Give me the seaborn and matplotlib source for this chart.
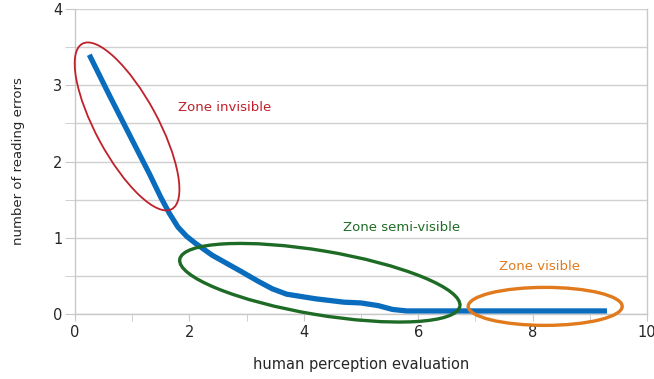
import numpy as np
import pandas as pd
import seaborn as sns
import matplotlib
matplotlib.use("Agg")
import matplotlib.pyplot as plt
from matplotlib.patches import Ellipse
import matplotlib.transforms as mtransforms

# Data
perception = [0.25, 0.6, 1.0, 1.3, 1.5, 1.65, 1.8, 1.95, 2.1, 2.4, 2.9, 3.2, 3.45, 3.7, 3.95, 4.2, 4.7, 5.0, 5.3, 5.55, 5.8, 6.5, 7.5, 8.5, 9.3]
errors = [3.4, 2.87, 2.28, 1.84, 1.53, 1.32, 1.14, 1.02, 0.93, 0.77, 0.56, 0.43, 0.33, 0.26, 0.23, 0.2, 0.155, 0.145, 0.11, 0.06, 0.04, 0.04, 0.04, 0.04, 0.04]

zone_labels = ["Zone invisible", "Zone semi-visible", "Zone visible"]
zone_label_pos = [(1.80, 2.71), (4.69, 1.13), (7.41, 0.62)]
zone_colors = ["#C0202A", "#1E6B26", "#E07A1C"]
# ellipses: center (data), semi-axes in pixels, angle deg, linewidth
zone_centers = [(0.91, 2.46), (4.28, 0.41), (8.22, 0.10)]
zone_axes_px = [(94, 31), (142, 32), (77, 19)]
zone_angles = [-61.6, -9.5, 0.0]
zone_lw = [1.3, 2.4, 2.4]

xticks = [0, 2, 4, 6, 8, 10]
yticks = [0, 1, 2, 3, 4]

df = pd.DataFrame({"x": perception, "y": errors})

sns.set_style("white")
plt.rcParams['font.family'] = ['DejaVu Sans']

fig = plt.figure(figsize=(6.54, 3.79), dpi=100)
ax = fig.add_axes([75/654, 1-314/379, (647-75)/654, (314-9)/379])

ax.set_xlim(0, 10)
ax.set_ylim(0, 4)

# gridlines at every 0.5
ax.set_yticks(np.arange(0, 4.01, 0.5), minor=True)
ax.set_yticks(yticks)
ax.set_xticks(xticks)
ax.set_xticks(np.arange(0, 10.01, 1), minor=True)
ax.yaxis.grid(True, which="both", color="#D0D0D0", linewidth=1.0)
ax.set_axisbelow(True)

sns.lineplot(data=df, x="x", y="y", ax=ax, color="#0A6CBD", linewidth=3.8,
             solid_capstyle="butt", solid_joinstyle="round", zorder=3)

for s in ["left", "bottom", "right"]:
    ax.spines[s].set_visible(True)
    ax.spines[s].set_color("#C8C8C8")
    ax.spines[s].set_linewidth(1.0)
ax.spines["top"].set_visible(False)

ax.tick_params(axis="y", which="both", length=7, color="#C8C8C8", labelsize=10.5, pad=2, left=True)
ax.tick_params(axis="x", which="both", length=5, color="#C8C8C8", labelsize=10.5, pad=3, bottom=True)
ax.set_yticklabels([str(t) for t in yticks])
ax.set_xticklabels([str(t) for t in xticks])

ax.set_xlabel("human perception evaluation", fontsize=10.5, labelpad=12)
ax.set_ylabel("number of reading errors", fontsize=9.5, labelpad=20)

# ellipses defined in pixel units
p0 = ax.transData.transform((0, 0))
p1 = ax.transData.transform((1, 1))
sx = p1[0] - p0[0]
sy = p1[1] - p0[1]
for (cx, cy), (a, b), ang, col, lw in zip(zone_centers, zone_axes_px, zone_angles, zone_colors, zone_lw):
    tr = mtransforms.Affine2D().scale(1/sx, 1/sy).translate(cx, cy) + ax.transData
    e = Ellipse((0, 0), 2*a, 2*b, angle=ang, transform=tr, fill=False,
                edgecolor=col, linewidth=lw, zorder=4, clip_on=False)
    ax.add_patch(e)

for lab, (tx, ty), col in zip(zone_labels, zone_label_pos, zone_colors):
    ax.text(tx, ty, lab, color=col, fontsize=9.5, ha="left", va="center")

fig.savefig("out.png", dpi=100)
